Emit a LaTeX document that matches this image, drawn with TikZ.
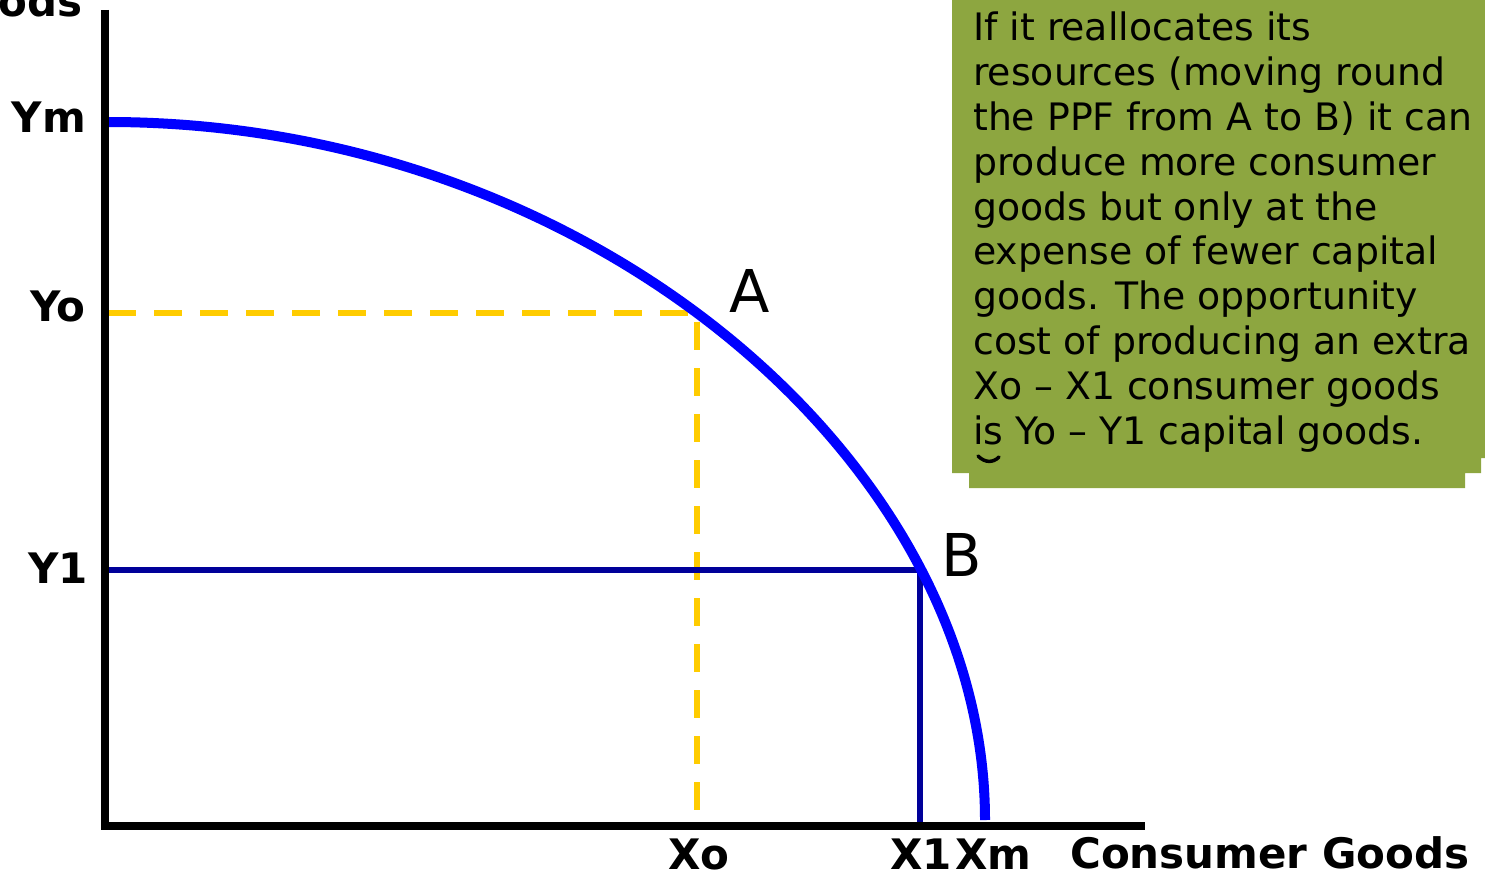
\documentclass[tikz,border=0pt]{standalone}
\usepackage{fontspec}
\newfontfamily\vsans{DejaVu Sans}
\definecolor{ppfblue}{RGB}{0,0,255}
\definecolor{navyline}{RGB}{0,0,153}
\definecolor{goldline}{RGB}{255,204,0}
\definecolor{olivebox}{RGB}{141,166,64}
\begin{document}
\begin{tikzpicture}[x=1pt,y=-1pt,
  axisline/.style={line width=7.5pt,black},
  ppf/.style={line width=10pt,ppfblue},
  refline/.style={line width=6pt,navyline},
  dashref/.style={line width=6pt,goldline,dash pattern=on 28pt off 18pt},
  axlabel/.style={inner sep=0pt,font=\vsans\bfseries\fontsize{42}{50}\selectfont},
  ptlabel/.style={inner sep=0pt,font=\vsans\fontsize{59}{70}\selectfont},
  boxline/.style={inner sep=0pt,anchor=base west,font=\vsans\fontsize{37.8}{44.8}\selectfont}]
\useasboundingbox (0,0) rectangle (1485,874);
% text box background
\fill[olivebox] (952,-2) -- (1487,-2) -- (1487,458) -- (1481,458) -- (1481,473)
  -- (1465,473) -- (1465,488) -- (969,488) -- (969,473) -- (952,473) -- cycle;
\foreach \t [count=\i from 0] in {
  If it reallocates its,
  resources (moving round,
  the PPF from A to B) it can,
  produce more consumer,
  goods but only at the,
  expense of fewer capital,
  goods. The opportunity,
  cost of producing an extra,
  Xo – X1 consumer goods,
  is Yo – Y1 capital goods.}
  \node[boxline] (line\i) at (973,{41+44.8*\i}) {\t};
\draw[line width=3.5pt,line cap=round] (978,456) .. controls (985,463) and (993,463) .. (999,457);
% coordinates
\coordinate (O) at (105,826);
\coordinate (ytop) at (105,10);
\coordinate (xend) at (1145,826);
\coordinate (Ym) at (108,122);
\coordinate (Xm) at (985,820);
\coordinate (A) at (697,313);
\coordinate (B) at (920,570);
\coordinate (Yo) at (108,313);
\coordinate (Y1) at (108,570);
\coordinate (Xo) at (697,822);
\coordinate (X1) at (920,822);
% reference lines
\draw[dashref] (Yo) -- (A) -- (Xo);
\draw[refline] (Y1) -- (B) -- (X1);
% PPF
\draw[ppf] (Ym) .. controls (588,122) and (985,460) .. (Xm);
% axes
\draw[axisline] (ytop) -- (O) -- (xend);
% labels
\node[axlabel,anchor=base east] (lods) at (83,17) {ods};
\node[axlabel,anchor=base east] (lYm) at (86,133) {Ym};
\node[axlabel,anchor=base east] (lYo) at (86,322) {Yo};
\node[axlabel,anchor=base east] (lY1) at (88,583) {Y1};
\node[axlabel,anchor=base west] (lXo) at (668,869) {Xo};
\node[axlabel,anchor=base west] (lX1) at (890,869) {X1};
\node[axlabel,anchor=base west] (lXm) at (955,869) {Xm};
\node[axlabel,anchor=base west] (lCG) at (1070,868) {Consumer Goods};
\node[ptlabel,anchor=base west] (lA) at (729,313) {A};
\node[ptlabel,anchor=base west] (lB) at (941,576) {B};
\end{tikzpicture}
\end{document}
